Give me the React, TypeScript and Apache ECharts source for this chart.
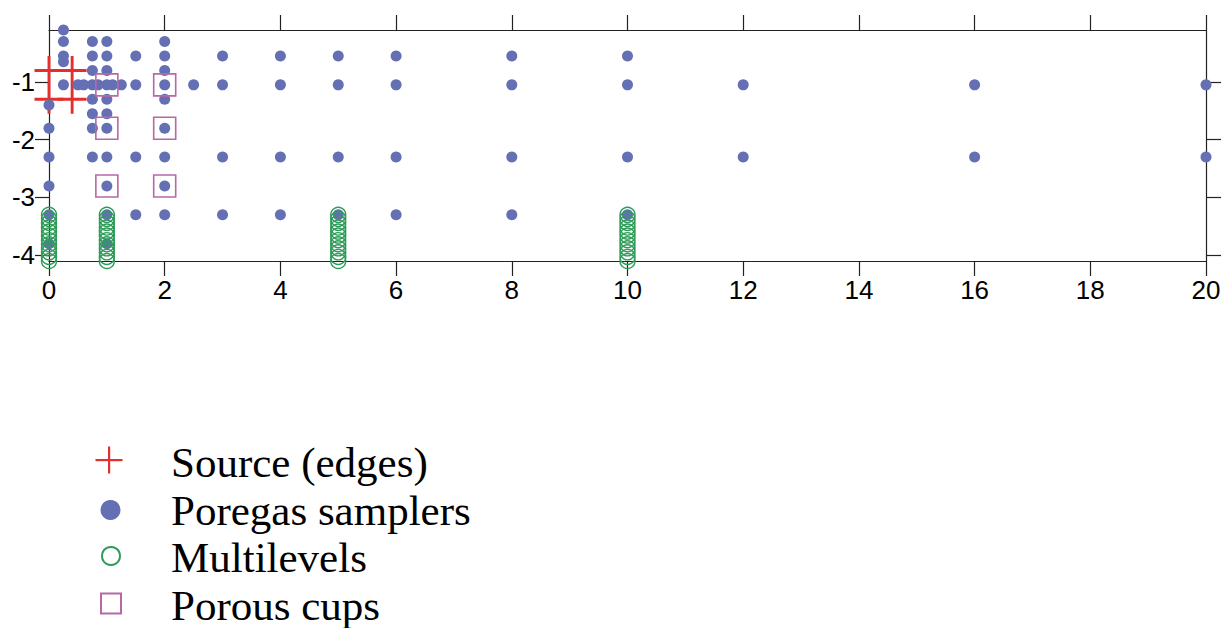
import { useEffect, useRef } from "react";
import * as echarts from "echarts";

// Axis ranges and tick positions
const xRange = [0, 20];
const yRange = [-4.1, -0.1];
const xTickStep = 2;
const yTickValues = [-4, -3, -2, -1];

// Source corner positions [x, depth]
const sourceEdges: number[][] = [
  [0, -0.8],
  [0.4, -0.8],
  [0, -1.3],
  [0.4, -1.3],
];

// Poregas samplers: one row per depth, listing the x positions at that depth
const poregasRows: [number, number[]][] = [
  [-0.1, [0.25]],
  [-0.3, [0.25, 0.75, 1, 2]],
  [-0.55, [0.25, 0.75, 1, 1.5, 2, 3, 4, 5, 6, 8, 10]],
  [-0.65, [0.25]],
  [-0.8, [0.75, 1, 2]],
  [-1.05, [0.25, 0.5, 0.6, 0.75, 0.85, 1, 1.1, 1.25, 1.5, 2, 2.5, 3, 4, 5, 6, 8, 10, 12, 16, 20]],
  [-1.3, [0.75, 1, 2]],
  [-1.4, [0]],
  [-1.55, [0.75, 1]],
  [-1.8, [0, 0.75, 1, 2]],
  [-2.3, [0, 0.75, 1, 1.5, 2, 3, 4, 5, 6, 8, 10, 12, 16, 20]],
  [-2.8, [0, 1, 2]],
  [-3.3, [0, 1, 1.5, 2, 3, 4, 5, 6, 8, 10]],
  [-3.8, [0, 1]],
];

// Multilevel wells: x positions and the depths of their levels
const multilevelColumns = [0, 1, 5, 10];
const multilevelDepths = [
  -3.3, -3.37, -3.44, -3.52, -3.59, -3.66, -3.74, -3.81, -3.88, -3.95, -4.03, -4.1,
];

// Porous cups [x, depth]
const porousCups: number[][] = [
  [1, -1.05],
  [2, -1.05],
  [1, -1.8],
  [2, -1.8],
  [1, -2.8],
  [2, -2.8],
];

const seriesNames = ["Source (edges)", "Poregas samplers", "Multilevels", "Porous cups"];

const RED = "#E3302E";
const BLUE = "#6570B4";
const GREEN = "#2E9C58";
const PINK = "#B868A5";
const AXIS = "#222";

const PLUS_PATH = "path://M0,13.5H30V16.5H0Z M13.5,0H16.5V30H13.5Z";

export default function App() {
  const ref = useRef<HTMLDivElement>(null);

  useEffect(() => {
    if (!ref.current) return;
    const chart = echarts.init(ref.current, undefined, { renderer: "svg" });

    const poregasData: number[][] = [];
    poregasRows.forEach(([depth, xs]) => xs.forEach((x) => poregasData.push([x, depth])));

    const multilevelData: number[][] = [];
    multilevelColumns.forEach((x) => multilevelDepths.forEach((d) => multilevelData.push([x, d])));

    const axisLine = { show: true, onZero: false, lineStyle: { color: AXIS, width: 1.2 } };
    const tick = (length: number) => ({
      show: true,
      inside: false,
      length,
      lineStyle: { color: AXIS, width: 1.2 },
    });
    const labelFont = {
      fontSize: 26,
      fontFamily: "'Liberation Sans', Arial, sans-serif",
      color: "#000",
    };

    const legendY = [462.5, 510.2, 557.9, 605.5];

    chart.setOption({
      animation: false,
      backgroundColor: "#fff",
      grid: { left: 49, right: 18, top: 30, bottom: 367, containLabel: false },
      xAxis: [
        {
          type: "value",
          position: "bottom",
          min: xRange[0],
          max: xRange[1],
          interval: xTickStep,
          axisLine,
          axisTick: tick(15),
          axisLabel: { ...labelFont, margin: 16 },
          splitLine: { show: false },
        },
        {
          type: "value",
          position: "top",
          min: xRange[0],
          max: xRange[1],
          interval: xTickStep,
          axisLine,
          axisTick: tick(15),
          axisLabel: { show: false },
          splitLine: { show: false },
        },
      ],
      yAxis: [
        {
          type: "value",
          position: "left",
          min: yRange[0],
          max: yRange[1],
          axisLine,
          axisTick: { ...tick(14), customValues: yTickValues },
          axisLabel: { ...labelFont, margin: 14, customValues: yTickValues },
          splitLine: { show: false },
        },
        {
          type: "value",
          position: "right",
          min: yRange[0],
          max: yRange[1],
          axisLine,
          axisTick: { ...tick(15), customValues: yTickValues },
          axisLabel: { show: false, customValues: yTickValues },
          splitLine: { show: false },
        },
      ],
      series: [
        {
          name: seriesNames[0],
          type: "scatter",
          clip: false,
          symbol: PLUS_PATH,
          symbolSize: 29,
          itemStyle: { color: RED, opacity: 1 },
          data: sourceEdges,
        },
        {
          name: seriesNames[1],
          type: "scatter",
          clip: false,
          symbol: "circle",
          symbolSize: 11,
          itemStyle: { color: BLUE, opacity: 1 },
          data: poregasData,
        },
        {
          name: seriesNames[2],
          type: "scatter",
          clip: false,
          symbol: "circle",
          symbolSize: 15,
          itemStyle: { color: "rgba(0,0,0,0)", borderColor: GREEN, borderWidth: 1.4, opacity: 1 },
          data: multilevelData,
        },
        {
          name: seriesNames[3],
          type: "scatter",
          clip: false,
          symbol: "rect",
          symbolSize: 22,
          itemStyle: { color: "rgba(0,0,0,0)", borderColor: PINK, borderWidth: 1.6, opacity: 1 },
          data: porousCups,
        },
      ],
      graphic: [
        // legend keys
        { type: "rect", shape: { x: 95.5, y: 459, width: 27, height: 2.2 }, style: { fill: RED } },
        { type: "rect", shape: { x: 108, y: 446.5, width: 2.2, height: 27 }, style: { fill: RED } },
        { type: "circle", shape: { cx: 110.5, cy: 510, r: 10 }, style: { fill: BLUE } },
        {
          type: "circle",
          shape: { cx: 111, cy: 556, r: 9 },
          style: { fill: "none", stroke: GREEN, lineWidth: 2 },
        },
        {
          type: "rect",
          shape: { x: 101, y: 593.5, width: 20, height: 20 },
          style: { fill: "none", stroke: PINK, lineWidth: 2 },
        },
        ...seriesNames.map((name, i) => ({
          type: "text",
          x: 171,
          y: legendY[i],
          style: {
            text: name,
            fontSize: 43,
            fontFamily: "'Liberation Serif', 'Times New Roman', serif",
            fill: "#000",
            verticalAlign: "middle",
            align: "left",
          },
        })),
      ],
    });

    return () => chart.dispose();
  }, []);

  return (
    <div
      ref={ref}
      style={{ position: "absolute", left: 0, top: 0, width: 1224, height: 628 }}
    />
  );
}
